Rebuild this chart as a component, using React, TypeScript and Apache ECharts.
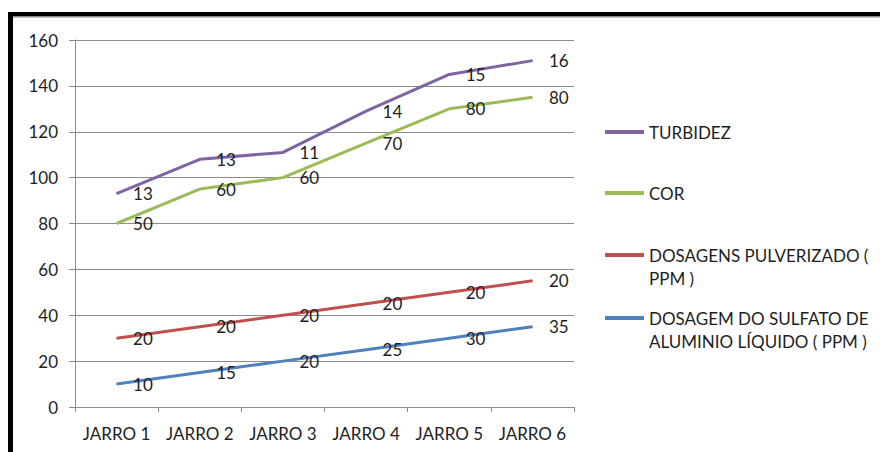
import React, { useEffect, useRef } from "react";
import * as echarts from "echarts";

const categories = ["JARRO 1", "JARRO 2", "JARRO 3", "JARRO 4", "JARRO 5", "JARRO 6"];
const sulfato = [10, 15, 20, 25, 30, 35];
const pulverizado = [20, 20, 20, 20, 20, 20];
const cor = [50, 60, 60, 70, 80, 80];
const turbidez = [13, 13, 11, 14, 15, 16];

const NAME_TURB = "TURBIDEZ";
const NAME_COR = "COR";
const NAME_PULV = "DOSAGENS PULVERIZADO ( PPM )";
const NAME_SULF = "DOSAGEM DO SULFATO DE ALUMINIO LÍQUIDO ( PPM )";

const FONT = "Lato, 'Open Sans', sans-serif";
const TEXT = "#1e1e1e";

// A leading empty line keeps the legend icon level with the first text line
// of the wrapped names (the text block is centred on the icon).
const legendText: Record<string, string> = {
  [NAME_TURB]: "TURBIDEZ",
  [NAME_COR]: "COR",
  [NAME_PULV]: "\nDOSAGENS PULVERIZADO (\nPPM )",
  [NAME_SULF]: "\nDOSAGEM DO SULFATO DE\nALUMINIO LÍQUIDO ( PPM )",
};

function makeSeries(name: string, data: number[], color: string) {
  return {
    name,
    type: "line",
    stack: "total",
    data,
    symbol: "circle",
    symbolSize: 1,
    lineStyle: { color, width: 3 },
    itemStyle: { color },
    label: {
      show: true,
      position: "right",
      distance: 16,
      fontFamily: FONT,
      fontSize: 17,
      color: TEXT,
      formatter: (p: any) => String(p.value),
    },
  };
}

function makeLegend(name: string, top: number) {
  return {
    show: true,
    data: [name],
    left: 605,
    top,
    padding: 0,
    orient: "vertical",
    icon: "rect",
    itemWidth: 39,
    itemHeight: 4,
    selectedMode: false,
    formatter: (n: string) => legendText[n] ?? n,
    textStyle: {
      fontFamily: FONT,
      fontSize: 17,
      color: TEXT,
      lineHeight: 23,
    },
  };
}

export default function App() {
  const ref = useRef<HTMLDivElement>(null);

  useEffect(() => {
    if (!ref.current) return;
    const chart = echarts.init(ref.current, undefined, { renderer: "svg" });
    chart.setOption({
      animation: false,
      backgroundColor: "#ffffff",
      grid: { left: 75, right: 306, top: 40, bottom: 45 },
      xAxis: {
        type: "category",
        data: categories,
        boundaryGap: true,
        axisLine: { lineStyle: { color: "#8c8c8c", width: 1 } },
        axisTick: { show: true, length: 5, lineStyle: { color: "#8c8c8c" } },
        axisLabel: { fontFamily: FONT, fontSize: 17, color: TEXT, margin: 18, interval: 0 },
      },
      yAxis: {
        type: "value",
        min: 0,
        max: 160,
        interval: 20,
        axisLine: { show: true, lineStyle: { color: "#8c8c8c", width: 1 } },
        axisTick: { show: true, length: 6, lineStyle: { color: "#8c8c8c" } },
        axisLabel: { fontFamily: FONT, fontSize: 17, color: TEXT, margin: 17 },
        splitLine: { lineStyle: { color: "#8c8c8c", width: 1 } },
      },
      legend: [
        makeLegend(NAME_TURB, 120.5),
        makeLegend(NAME_COR, 181.5),
        makeLegend(NAME_PULV, 220.5),
        makeLegend(NAME_SULF, 283.5),
      ],
      series: [
        makeSeries(NAME_SULF, sulfato, "#4F81BD"),
        makeSeries(NAME_PULV, pulverizado, "#C0504D"),
        makeSeries(NAME_COR, cor, "#9BBB59"),
        makeSeries(NAME_TURB, turbidez, "#8064A2"),
      ],
      graphic: [
        { type: "rect", shape: { x: 8, y: 12, width: 872, height: 4 }, style: { fill: "#000000" } },
        { type: "rect", shape: { x: 12, y: 16, width: 868, height: 1.5 }, style: { fill: "#8a8a8a" } },
        { type: "rect", shape: { x: 8, y: 12, width: 5, height: 440 }, style: { fill: "#000000" } },
      ],
    });
    return () => chart.dispose();
  }, []);

  return (
    <div
      ref={ref}
      style={{ position: "fixed", left: 0, top: 0, width: 880, height: 452 }}
    />
  );
}
